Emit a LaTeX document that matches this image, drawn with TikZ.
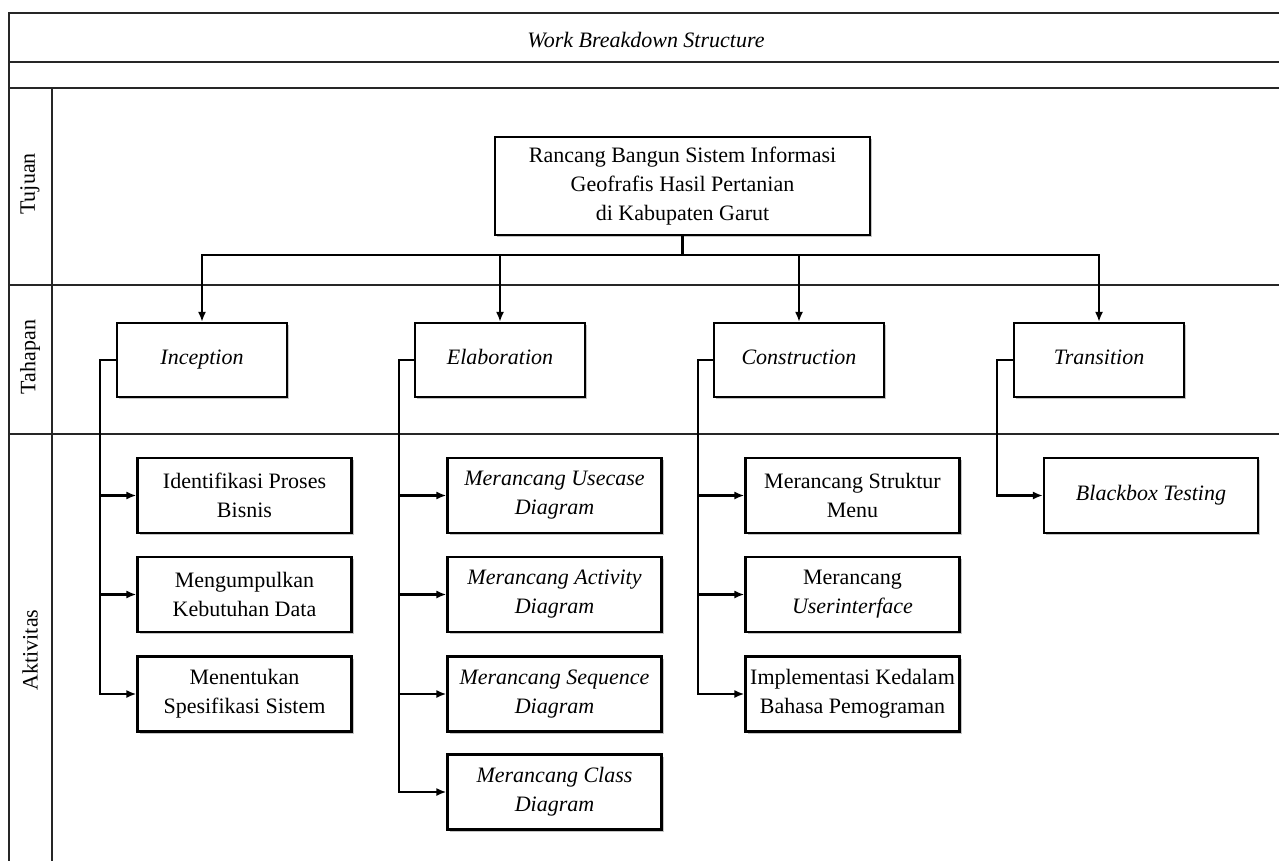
\documentclass[tikz,border=0pt]{standalone}
\usepackage{fontspec}
\setmainfont{Liberation Serif}
\usepackage{tikz}
\usetikzlibrary{arrows.meta}
\usetikzlibrary{shadows}
\tikzstyle{FrameLine}=[line width=1.3pt,black!85]
\tikzstyle{BoxWbs}=[draw,line width=1.1pt,fill=white,align=center,inner sep=2pt,
font=\fontsize{11}{14.5}\selectfont,
drop shadow={shadow xshift=1.2pt,shadow yshift=-1.2pt,fill=black!45,opacity=.5}]
\tikzstyle{RootBox}=[BoxWbs,minimum width=187.5pt,minimum height=49pt]
\tikzstyle{PhaseBox}=[BoxWbs,minimum width=85pt,minimum height=37pt,text height=.7em,text depth=.22em,
font=\fontsize{11}{14.5}\selectfont\itshape]
\tikzstyle{TaskBox}=[BoxWbs,minimum width=107pt,minimum height=37.5pt]
\tikzstyle{EdgeWbs}=[line width=1.1pt,-{Latex[length=5pt,width=4pt]}]
\tikzstyle{LaneLabel}=[rotate=90,font=\fontsize{11}{14.5}\selectfont]

\begin{document}
\begin{tikzpicture}[x=.5pt,y=-.5pt]
        \useasboundingbox(0,0)rectangle(1279,861);
        % frame
        \draw[FrameLine](9,870)--(9,13)--(1290,13);
        \draw[FrameLine](9,62)--(1290,62);
        \draw[FrameLine](9,88)--(1290,88);
        \draw[FrameLine](9,285)--(1290,285);
        \draw[FrameLine](9,434)--(1290,434);
        \draw[FrameLine](52,88)--(52,870);
        \node[font=\fontsize{11}{14.5}\selectfont\itshape](title)at(646,40){Work Breakdown Structure};
        \node[LaneLabel](tujuan)at(30,184){Tujuan};
        \node[LaneLabel](tahapan)at(30,357){Tahapan};
        \node[LaneLabel](aktivitas)at(30,650){Aktivitas};
        % goal and phases
        \node[RootBox](root)at(682.5,186){Rancang Bangun Sistem Informasi\\Geofrafis Hasil Pertanian\\di Kabupaten Garut};
        \node[PhaseBox](inc)at(202,360){Inception};
        \node[PhaseBox](elab)at(500,360){Elaboration};
        \node[PhaseBox](cons)at(799,360){Construction};
        \node[PhaseBox](trans)at(1099,360){Transition};
        \coordinate(bus)at(682.5,255);
        \draw[EdgeWbs](root.south)--(bus)-|(inc.north);
        \draw[EdgeWbs](root.south)--(bus)-|(elab.north);
        \draw[EdgeWbs](root.south)--(bus)-|(cons.north);
        \draw[EdgeWbs](root.south)--(bus)-|(trans.north);
        % activities
        \node[TaskBox](inc1)at(244.5,495.5){Identifikasi Proses\\Bisnis};
        \node[TaskBox](inc2)at(244.5,594.5){Mengumpulkan\\Kebutuhan Data};
        \node[TaskBox](inc3)at(244.5,694){Menentukan\\Spesifikasi Sistem};
        \node[TaskBox,font=\fontsize{11}{14.5}\selectfont\itshape](elab1)at(554.5,495.5){Merancang Usecase\\Diagram};
        \node[TaskBox,font=\fontsize{11}{14.5}\selectfont\itshape](elab2)at(554.5,594.5){Merancang Activity\\Diagram};
        \node[TaskBox,font=\fontsize{11}{14.5}\selectfont\itshape](elab3)at(554.5,694){Merancang Sequence\\Diagram};
        \node[TaskBox,font=\fontsize{11}{14.5}\selectfont\itshape](elab4)at(554.5,792){Merancang Class\\Diagram};
        \node[TaskBox](cons1)at(852.5,495.5){Merancang Struktur\\Menu};
        \node[TaskBox](cons2)at(852.5,594.5){Merancang\\\textit{Userinterface}};
        \node[TaskBox](cons3)at(852.5,694){Implementasi Kedalam\\Bahasa Pemograman};
        \node[TaskBox,font=\fontsize{11}{14.5}\selectfont\itshape](trans1)at(1151,495.5){Blackbox Testing};
        \coordinate(incrail)at(100,360);
        \coordinate(elabrail)at(399,360);
        \coordinate(consrail)at(698,360);
        \coordinate(transrail)at(997,360);
        \draw[EdgeWbs](inc.west)--(incrail)|-(inc1.west);
        \draw[EdgeWbs](inc.west)--(incrail)|-(inc2.west);
        \draw[EdgeWbs](inc.west)--(incrail)|-(inc3.west);
        \draw[EdgeWbs](elab.west)--(elabrail)|-(elab1.west);
        \draw[EdgeWbs](elab.west)--(elabrail)|-(elab2.west);
        \draw[EdgeWbs](elab.west)--(elabrail)|-(elab3.west);
        \draw[EdgeWbs](elab.west)--(elabrail)|-(elab4.west);
        \draw[EdgeWbs](cons.west)--(consrail)|-(cons1.west);
        \draw[EdgeWbs](cons.west)--(consrail)|-(cons2.west);
        \draw[EdgeWbs](cons.west)--(consrail)|-(cons3.west);
        \draw[EdgeWbs](trans.west)--(transrail)|-(trans1.west);
    \end{tikzpicture}
\end{document}
